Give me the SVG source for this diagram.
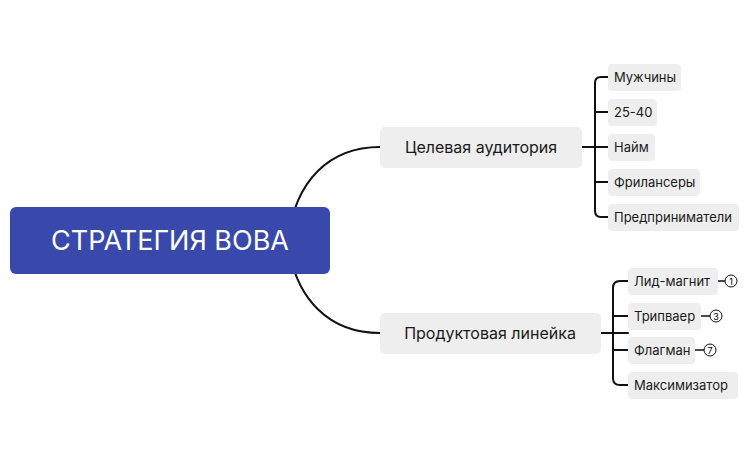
<svg xmlns="http://www.w3.org/2000/svg" width="749" height="464" viewBox="0 0 749 464">
<style>
.b{fill:#eeeeee}
.t{font-family:"Inter","Liberation Sans",sans-serif;fill:#1a1a1a}
.s{font-size:13px}
.m{font-size:16px}
.c{fill:none;stroke:#111;stroke-width:2;stroke-linecap:round}
.bd{fill:#fff;stroke:#111;stroke-width:1}
</style>
<rect width="749" height="464" fill="#fff"/>
<g id="connectors" class="c">
<path d="M288,240 C295,180 330,147 380,147"/>
<path d="M288,242 C295,300 330,333 380,333"/>
<path d="M582,147 H608"/>
<path d="M608,77 H601 Q595,77 595,83 V211 Q595,217 601,217 H608"/>
<path d="M595,112 Q595,112 601,112 H608"/>
<path d="M595,182 H608"/>
<path d="M601,333 H628"/>
<path d="M628,281 H620 Q613,281 613,288 V378 Q613,385 620,385 H628"/>
<path d="M613,316 H628"/>
<path d="M613,350 H628"/>
<path d="M718,281 H725 M701,316 H710 M695,350 H704" stroke-width="1.5"/>
</g>
<g id="root"><rect x="10" y="207" width="320" height="67" rx="6" fill="#3949ab"/>
<text x="170" y="250" text-anchor="middle" font-family="Inter,'Liberation Sans',sans-serif" font-size="27" fill="#fff">СТРАТЕГИЯ ВОВА</text></g>
<g id="n1"><rect class="b" x="380" y="127" width="202" height="41" rx="5"/><text class="t m" x="481" y="153" text-anchor="middle">Целевая аудитория</text></g>
<g id="n2"><rect class="b" x="380" y="313" width="221" height="41" rx="5"/><text class="t m" x="490" y="339" text-anchor="middle">Продуктовая линейка</text></g>
<g id="a1"><rect class="b" x="608" y="64" width="73" height="27" rx="4"/><text class="t s" x="614" y="82">Мужчины</text></g>
<g id="a2"><rect class="b" x="608" y="99" width="49" height="27" rx="4"/><text class="t s" x="614" y="117">25-40</text></g>
<g id="a3"><rect class="b" x="608" y="134" width="47" height="27" rx="4"/><text class="t s" x="614" y="152">Найм</text></g>
<g id="a4"><rect class="b" x="608" y="169" width="92" height="27" rx="4"/><text class="t s" x="614" y="187">Фрилансеры</text></g>
<g id="a5"><rect class="b" x="608" y="204" width="131" height="27" rx="4"/><text class="t s" x="614" y="222">Предприниматели</text></g>
<g id="p1"><rect class="b" x="628" y="268" width="90" height="27" rx="4"/><text class="t s" x="634" y="286">Лид-магнит</text>
<circle class="bd" cx="731" cy="281" r="6"/><text x="731" y="284.5" text-anchor="middle" font-family="Inter,'Liberation Sans',sans-serif" font-size="9">1</text></g>
<g id="p2"><rect class="b" x="628" y="303" width="73" height="27" rx="4"/><text class="t s" x="634" y="321">Трипваер</text>
<circle class="bd" cx="716" cy="316" r="6"/><text x="716" y="319.5" text-anchor="middle" font-family="Inter,'Liberation Sans',sans-serif" font-size="9">3</text></g>
<g id="p3"><rect class="b" x="628" y="337" width="67" height="27" rx="4"/><text class="t s" x="634" y="355">Флагман</text>
<circle class="bd" cx="710" cy="350" r="6"/><text x="710" y="353.5" text-anchor="middle" font-family="Inter,'Liberation Sans',sans-serif" font-size="9">7</text></g>
<g id="p4"><rect class="b" x="628" y="372" width="110" height="27" rx="4"/><text class="t s" x="634" y="390">Максимизатор</text></g>
</svg>
